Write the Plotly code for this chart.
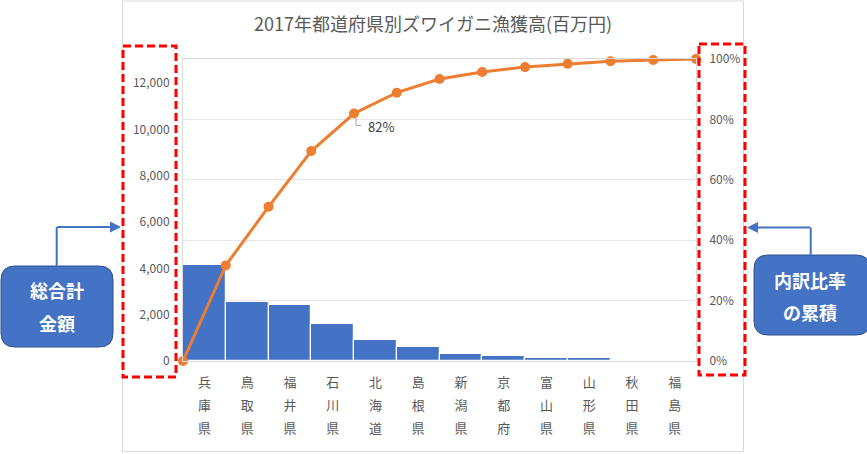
import plotly.graph_objects as go

# ---- data ----
prefectures = ["兵庫県", "鳥取県", "福井県", "石川県", "北海道", "島根県",
               "新潟県", "京都府", "富山県", "山形県", "秋田県", "福島県"]
catch_value = [4130, 2530, 2410, 1620, 900, 590, 300, 215, 140, 110, 55, 45]  # 百万円
title_text = "2017年都道府県別ズワイガニ漁獲高(百万円)"
left_callout = ["総合計", "金額"]
right_callout = ["内訳比率", "の累積"]
label_index = 4  # cumulative point that carries a data label

total = sum(catch_value)
cum = [0.0]
running = 0
for v in catch_value:
    running += v
    cum.append(running / total)

# ---- layout geometry (pixels) ----
WIDTH, HEIGHT = 867, 454
PL, PR, PT, PB = 183, 696, 59, 361
PW, PH = PR - PL, PB - PT


def X(px):
    return (px - PL) / PW


def Y(py):
    return (PB - py) / PH


def rrect(x0, y0, x1, y1, r):
    return (f"M {X(x0 + r)},{Y(y0)} L {X(x1 - r)},{Y(y0)} "
            f"Q {X(x1)},{Y(y0)} {X(x1)},{Y(y0 + r)} L {X(x1)},{Y(y1 - r)} "
            f"Q {X(x1)},{Y(y1)} {X(x1 - r)},{Y(y1)} L {X(x0 + r)},{Y(y1)} "
            f"Q {X(x0)},{Y(y1)} {X(x0)},{Y(y1 - r)} L {X(x0)},{Y(y0 + r)} "
            f"Q {X(x0)},{Y(y0)} {X(x0 + r)},{Y(y0)} Z")


FONT = "Noto Sans CJK JP"
GREY = "#595959"
AXIS = "#d9d9d9"
BLUE = "#4472C4"
ORANGE = "#ED7D31"

n = len(prefectures)
bar_x = [i + 0.5 for i in range(n)]
line_x = list(range(n + 1))
tick_text = ["<br>".join(f"<span style='font-size:13px'>{c}</span>" for c in p)
             for p in prefectures]

fig = go.Figure()
fig.add_trace(go.Bar(
    x=bar_x, y=catch_value, width=1.0,
    marker=dict(color=BLUE, line=dict(color="white", width=1.2)),
    yaxis="y", showlegend=False, hoverinfo="skip",
))
fig.add_trace(go.Scatter(
    x=line_x, y=cum, yaxis="y2", mode="lines+markers",
    line=dict(color=ORANGE, width=3),
    marker=dict(color=ORANGE, size=10),
    cliponaxis=False, showlegend=False, hoverinfo="skip",
))

shapes = []
annotations = []

# chart area border
shapes.append(dict(type="rect", xref="paper", yref="paper",
                   x0=X(122.5), x1=X(743.5), y0=Y(1), y1=Y(451.5),
                   line=dict(color=AXIS, width=1), layer="below"))

# red dashed highlight boxes
for (x0, y0, x1, y1) in [(123, 46, 176, 377), (699, 44, 745, 375)]:
    shapes.append(dict(type="rect", xref="paper", yref="paper",
                       x0=X(x0), x1=X(x1), y0=Y(y0), y1=Y(y1),
                       line=dict(color="#FF0000", width=3, dash="8px,4px")))

# callout boxes
for (x0, y0, x1, y1) in [(1, 266, 113, 347), (754, 255, 870, 335)]:
    shapes.append(dict(type="path", xref="paper", yref="paper",
                       path=rrect(x0, y0, x1, y1, 14),
                       fillcolor=BLUE, line=dict(color="#2F528F", width=1)))

# connector lines (vertical parts)
shapes.append(dict(type="line", xref="paper", yref="paper",
                   x0=X(56.7), x1=X(56.7), y0=Y(266), y1=Y(227),
                   line=dict(color=BLUE, width=2)))
shapes.append(dict(type="line", xref="paper", yref="paper",
                   x0=X(810.7), x1=X(810.7), y0=Y(255), y1=Y(227.5),
                   line=dict(color=BLUE, width=2)))
# arrows (horizontal parts)
annotations.append(dict(xref="paper", yref="paper", x=X(121), y=Y(227), text="",
                        showarrow=True, ax=-65.3, ay=0, arrowhead=2, arrowsize=1.1,
                        arrowwidth=2, arrowcolor=BLUE, standoff=0))
annotations.append(dict(xref="paper", yref="paper", x=X(747), y=Y(227.5), text="",
                        showarrow=True, ax=64.7, ay=0, arrowhead=2, arrowsize=1.1,
                        arrowwidth=2, arrowcolor=BLUE, standoff=0))

# callout texts
for txt, cx, cy in [(left_callout[0], 56.5, 290), (left_callout[1], 56.5, 323),
                    (right_callout[0], 810, 280), (right_callout[1], 810, 312)]:
    annotations.append(dict(xref="paper", yref="paper", x=X(cx), y=Y(cy),
                            text=f"<b>{txt}</b>", showarrow=False,
                            xanchor="center", yanchor="middle",
                            font=dict(family=FONT, size=18, color="white")))

# data label for cumulative point
annotations.append(dict(xref="x", yref="y2", x=line_x[label_index], y=cum[label_index],
                        text=f"{round(cum[label_index] * 100)}%", showarrow=False,
                        xanchor="left", yanchor="middle", xshift=12, yshift=-13,
                        font=dict(family=FONT, size=13, color="#404040")))
shapes.append(dict(type="path", xref="x", yref="y2", xsizemode="pixel", ysizemode="pixel",
                   xanchor=line_x[label_index], yanchor=cum[label_index],
                   path="M 2,-4 L 2,-12 L 7,-12", line=dict(color="#a6a6a6", width=1)))

fig.update_layout(
    width=WIDTH, height=HEIGHT,
    margin=dict(l=PL, r=WIDTH - PR, t=PT, b=HEIGHT - PB, pad=0),
    paper_bgcolor="white", plot_bgcolor="white",
    font=dict(family=FONT, color=GREY, size=12),
    bargap=0,
    title=dict(text=title_text, x=433 / WIDTH, xanchor="center", xref="container",
               y=1 - 25 / HEIGHT, yanchor="middle", yref="container",
               font=dict(family=FONT, size=18, color=GREY)),
    xaxis=dict(range=[0, n], tickvals=bar_x, ticktext=tick_text, ticks="",
               showgrid=False, zeroline=False, showline=True, linecolor=AXIS,
               mirror=True, tickfont=dict(family=FONT, size=18, color=GREY),
               ticklabelstandoff=3, fixedrange=True),
    yaxis=dict(range=[0, total], dtick=2000, tickformat=",", showgrid=False,
               zeroline=False, showline=True, linecolor=AXIS, ticks="",
               tickfont=dict(family=FONT, size=12, color=GREY),
               ticklabelstandoff=10),
    yaxis2=dict(range=[0, 1], dtick=0.2, tickformat=".0%", overlaying="y", side="right",
                showgrid=True, gridcolor="#e6e6e6", zeroline=False, showline=True,
                linecolor=AXIS, ticks="", tickfont=dict(family=FONT, size=12, color=GREY),
                ticklabelstandoff=10),
    shapes=shapes, annotations=annotations,
)

fig.write_html("out.html", config={"displayModeBar": False},
               post_script="document.body.style.margin='0';")
